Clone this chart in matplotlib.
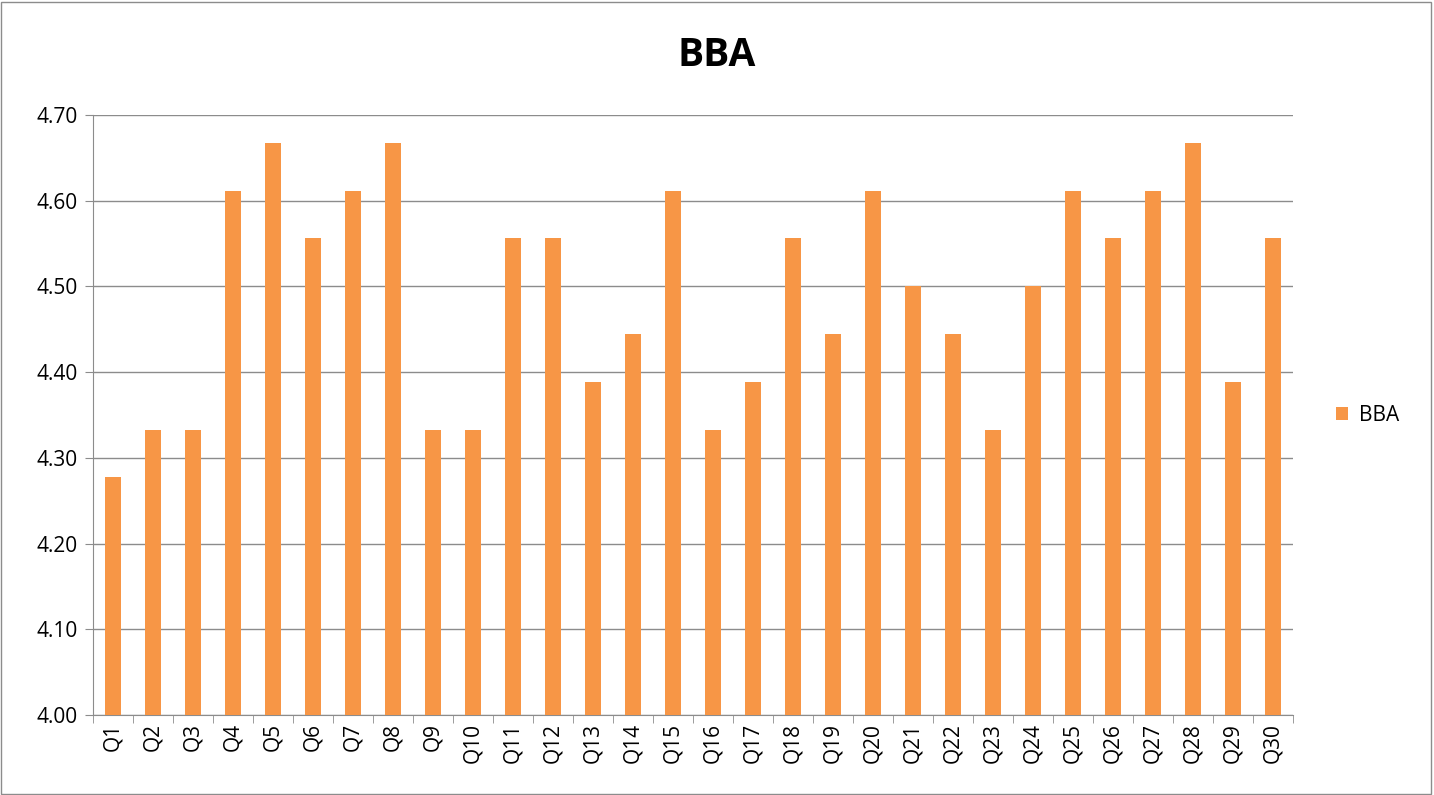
import numpy as np
import matplotlib
matplotlib.use("Agg")
import matplotlib.pyplot as plt
from matplotlib.patches import Rectangle

# data
questions = ["Q%d" % i for i in range(1, 31)]
bba = [4.278, 4.333, 4.333, 4.611, 4.667, 4.556, 4.611, 4.667, 4.333, 4.333,
       4.556, 4.556, 4.389, 4.444, 4.611, 4.333, 4.389, 4.556, 4.444, 4.611,
       4.500, 4.444, 4.333, 4.500, 4.611, 4.556, 4.611, 4.667, 4.389, 4.556]
y_ticks = [4.00, 4.10, 4.20, 4.30, 4.40, 4.50, 4.60, 4.70]

plt.rcParams['font.family'] = ['Open Sans', 'DejaVu Sans']

fig = plt.figure(figsize=(14.34, 7.95), dpi=100)
ax = fig.add_axes([0.0649, 0.1006, 0.8368, 0.7547])

x = np.arange(len(questions))
ax.bar(x, bba, width=0.38, color="#F79646", label="BBA", zorder=3)

ax.set_ylim(4.0, 4.7)
ax.set_xlim(-0.5, len(questions) - 0.5)
ax.set_yticks(y_ticks)
ax.set_yticklabels(["%.2f" % v for v in y_ticks], fontsize=15)
ax.yaxis.grid(True, color="#8c8c8c", linewidth=1, zorder=0)

# category labels centred, tick marks at the boundaries
ax.set_xticks(x)
ax.set_xticklabels(questions, rotation=90, fontsize=15)
ax.tick_params(axis="x", length=0, pad=6)
ax.set_xticks(np.arange(-0.5, len(questions)), minor=True)
ax.tick_params(axis="x", which="minor", length=6, color="#8c8c8c")
ax.tick_params(axis="y", length=6, color="#8c8c8c", pad=5)

for s in ["top", "right"]:
    ax.spines[s].set_visible(False)
for s in ["left", "bottom"]:
    ax.spines[s].set_color("#8c8c8c")

fig.text(0.5, 0.93, "BBA", ha="center", va="center", fontsize=28, fontweight="bold")

ax.legend(loc="center left", bbox_to_anchor=(1.02, 0.5), frameon=False,
          fontsize=15, handlelength=0.6, handleheight=0.6, handletextpad=0.5)

fig.patches.append(Rectangle((0.001, 0.001), 0.997, 0.997, transform=fig.transFigure,
                             fill=False, edgecolor="#8c8c8c", linewidth=1))

fig.savefig("out.png", dpi=100)
